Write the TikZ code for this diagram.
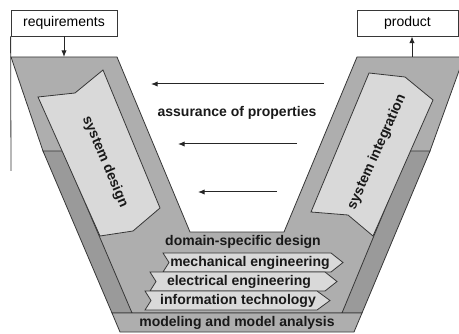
\documentclass[tikz,border=0pt]{standalone}
\usepackage{fontspec}
\setmainfont{Liberation Sans}
\usetikzlibrary{arrows.meta}

\definecolor{vgray}{RGB}{174,174,174}
\definecolor{sgray}{RGB}{154,154,154}
\definecolor{lgray}{RGB}{217,217,217}
\definecolor{egray}{RGB}{55,55,55}

\tikzset{
  vshape/.style={fill=vgray, draw=egray, line width=0.6pt},
  strip/.style={fill=sgray, draw=egray, line width=0.6pt},
  phase/.style={fill=lgray, draw=egray, line width=0.6pt},
  lbl/.style={inner sep=0.75pt, text=black!90, font=\fontsize{10.5}{12}\selectfont\bfseries},
  iobox/.style={draw=egray, fill=white, line width=0.6pt, inner sep=0pt, font=\fontsize{10.5}{12}\selectfont},
  flow/.style={-{Latex[length=5pt,width=4pt]}, line width=0.75pt, draw=black!85},
}

\begin{document}
\begin{tikzpicture}[x=0.75pt,y=0.75pt,yscale=-1,xscale=1]
    \useasboundingbox (0,0) rectangle (459,334);

    %Shape: V front
    \draw [vshape] (11,57) -- (117,57) -- (190,232) -- (284,232) -- (357,57) -- (464,57) -- (430,151) -- (342,313) -- (132,313) -- (43,151) -- cycle ;
    %Shape: side strips
    \draw [strip] (43,151) -- (63,151) -- (132,313) -- (112,313) -- cycle ;
    \draw [strip] (409,151) -- (430,151) -- (362,313) -- (342,313) -- cycle ;
    %Shape: bottom bar
    \draw [vshape] (112,313) -- (362,313) -- (354,332) -- (120,332) -- cycle ;

    %Shape: system design
    \draw [phase] (38,97) -- (75,93) -- (103,70) -- (160,208) -- (133,231) -- (100,236) -- cycle ;
    %Shape: system integration
    \draw [phase] (369,73) -- (405,77) -- (433,100) -- (373,236) -- (348,215) -- (311,212) -- cycle ;

    %Shape: domain bands
    \draw [phase] (163,253) -- (331,253) -- (343,262.5) -- (331,272) -- (163,272) -- (169,262.5) -- cycle ;
    \draw [phase] (150,272) -- (325,272) -- (337,281.5) -- (325,291) -- (150,291) -- (156,281.5) -- cycle ;
    \draw [phase] (145,291) -- (317,291) -- (330,300.5) -- (317,310) -- (145,310) -- (151,300.5) -- cycle ;

    % Boxes
    \node [iobox, minimum width=79.5pt, minimum height=19.5pt] (req) at (64,23) {requirements};
    \node [iobox, minimum width=75.75pt, minimum height=19.5pt] (prod) at (407.5,23) {product};
    \coordinate (reqend) at (11,171);
    \coordinate (vtopL) at (64,57);
    \coordinate (vtopR) at (412,57);
    \draw [line width=0.6pt, egray] (req.south west) -- (reqend);
    \draw [flow] (req.south) -- (vtopL);
    \draw [flow] (vtopR) -- (vtopR |- prod.south);

    % Assurance arrows
    \coordinate (a1s) at (324,84);  \coordinate (a1e) at (151,84);
    \coordinate (a2s) at (297,144); \coordinate (a2e) at (178,144);
    \coordinate (a3s) at (277,192); \coordinate (a3e) at (198,192);
    \draw [flow] (a1s) -- (a1e);
    \draw [flow] (a2s) -- (a2e);
    \draw [flow] (a3s) -- (a3e);

    % Text Node
    \node [lbl] (assur) at (237,113) {assurance of properties};
    % Text Node
    \node [lbl, rotate=-67] (sysdes) at (105,162) {system design};
    % Text Node
    \node [lbl, rotate=66] (sysint) at (377,152) {system integration};
    % Text Node
    \node [lbl] (domain) at (243,242) {domain-specific design};
    % Text Node
    \node [lbl] (mech) at (250,262.5) {mechanical engineering};
    % Text Node
    \node [lbl] (elec) at (239,281.5) {electrical engineering};
    % Text Node
    \node [lbl] (info) at (238,300.5) {information technology};
    % Text Node
    \node [lbl] (model) at (237,322.5) {modeling and model analysis};

\end{tikzpicture}
\end{document}
